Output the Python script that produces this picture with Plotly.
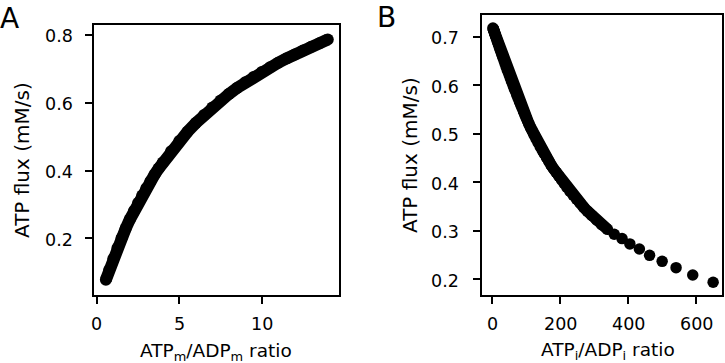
import plotly.graph_objects as go

# ---------------- data ----------------
# Panel A: ATPm/ADPm ratio vs ATP flux
a_ratio = [0.55, 0.75, 1.0, 1.25, 1.5, 1.75, 2.0, 2.25, 2.5, 2.75, 3.0, 3.25, 3.5, 3.75,
           4.0, 4.5, 5.0, 5.5, 6.0, 6.5, 7.0, 7.5, 8.0, 8.5, 9.0, 9.5, 10.0, 10.5, 11.0,
           11.5, 12.0, 12.5, 13.0, 13.5, 14.0]
a_flux = [0.0775, 0.1060, 0.1396, 0.1711, 0.2009, 0.2289, 0.2553, 0.2803, 0.3040, 0.3265,
          0.3479, 0.3682, 0.3876, 0.4060, 0.4236, 0.4566, 0.4868, 0.5145, 0.5402, 0.5639,
          0.5860, 0.6065, 0.6256, 0.6436, 0.6603, 0.6761, 0.6910, 0.7050, 0.7182, 0.7307,
          0.7426, 0.7540, 0.7650, 0.7755, 0.7865]

# Panel B: ATPi/ADPi ratio vs ATP flux
b_ratio = [2, 3, 4, 5, 6, 7, 8, 9, 10, 12, 14, 16, 18, 20, 22, 24, 26, 28, 30, 32, 35, 38,
           41, 44, 47, 50, 53, 56, 59, 62, 65, 68, 72, 76, 80, 84, 88, 92, 96, 100, 104, 108,
           113, 118, 123, 129, 135, 141, 147, 153, 160, 167, 174, 181, 188, 196, 204, 212,
           220, 229, 238, 248, 258, 269, 280, 293, 307, 322, 339,
           359, 382, 405, 433, 463, 500, 541, 590, 650]
b_flux = [0.718, 0.716, 0.714, 0.712, 0.710, 0.7075, 0.7054, 0.7033, 0.7012, 0.6970, 0.6928,
          0.6886, 0.6844, 0.6802, 0.6762, 0.6722, 0.6682, 0.6642, 0.6602, 0.6562, 0.6502,
          0.6442, 0.6383, 0.6326, 0.6269, 0.6212, 0.6155, 0.6098, 0.6041, 0.5986, 0.5932,
          0.5878, 0.5806, 0.5734, 0.5662, 0.5594, 0.5526, 0.5458, 0.5390, 0.5322, 0.5262,
          0.5202, 0.5127, 0.5052, 0.4977, 0.4892, 0.4814, 0.4736, 0.4658, 0.4588, 0.4507,
          0.4427, 0.4346, 0.4274, 0.4204, 0.4124, 0.4046, 0.3970, 0.3894, 0.3812, 0.3736,
          0.3651, 0.3572, 0.3487, 0.3406, 0.3315, 0.3222, 0.3127, 0.3030,
          0.293, 0.284, 0.273, 0.2625, 0.2495, 0.237, 0.224, 0.209, 0.194]
b_dense_count = 69  # points up to ratio 339 merge into a continuous band

a_xticks = [0, 5, 10]
a_xticklabels = ["0", "5", "10"]
a_yticks = [0.2, 0.4, 0.6, 0.8]
a_yticklabels = ["0.2", "0.4", "0.6", "0.8"]
b_xticks = [0, 200, 400, 600]
b_xticklabels = ["0", "200", "400", "600"]
b_yticks = [0.2, 0.3, 0.4, 0.5, 0.6, 0.7]
b_yticklabels = ["0.2", "0.3", "0.4", "0.5", "0.6", "0.7"]

# ---------------- figure ----------------
W, H = 725, 363
FONT = "DejaVu Sans"
TICK_FS = 17.5
XLAB_FS = 18.5
YLAB_FS = 20


def fx(p):
    return p / W


def fy(p):
    return 1 - p / H


fig = go.Figure()

fig.add_trace(go.Scatter(x=a_ratio, y=a_flux, mode="lines+markers",
                         line=dict(color="black", width=12),
                         marker=dict(color="black", size=12),
                         xaxis="x", yaxis="y", showlegend=False, hoverinfo="skip"))

fig.add_trace(go.Scatter(x=b_ratio[:b_dense_count], y=b_flux[:b_dense_count], mode="lines",
                         line=dict(color="black", width=11.5),
                         xaxis="x2", yaxis="y2", showlegend=False, hoverinfo="skip"))
fig.add_trace(go.Scatter(x=b_ratio, y=b_flux, mode="markers",
                         marker=dict(color="black", size=11.5),
                         xaxis="x2", yaxis="y2", showlegend=False, hoverinfo="skip"))

axis_common = dict(showline=True, linecolor="black", linewidth=1.5, mirror=True,
                   ticks="outside", ticklen=7, tickwidth=1.5, tickcolor="black",
                   showgrid=False, zeroline=False, showticklabels=False)

A_LEFT, A_RIGHT, A_TOP, A_BOTTOM = 94, 339, 25, 295
B_LEFT, B_RIGHT, B_TOP, B_BOTTOM = 481.7, 722.3, 15, 295

fig.update_layout(
    width=W, height=H,
    margin=dict(l=0, r=0, t=0, b=0),
    paper_bgcolor="white", plot_bgcolor="white",
    font=dict(family=FONT, size=TICK_FS, color="black"),
    xaxis=dict(domain=[fx(A_LEFT), fx(A_RIGHT)], range=[-0.17, 14.68], tickvals=a_xticks,
               anchor="y", **axis_common),
    yaxis=dict(domain=[fy(A_BOTTOM), fy(A_TOP)], range=[0.0325, 0.8295], tickvals=a_yticks,
               anchor="x", **axis_common),
    xaxis2=dict(domain=[fx(B_LEFT), fx(B_RIGHT)], range=[-31, 677], tickvals=b_xticks,
                anchor="y2", **axis_common),
    yaxis2=dict(domain=[fy(B_BOTTOM), fy(B_TOP)], range=[0.1677, 0.7447], tickvals=b_yticks,
                anchor="x2", **axis_common),
)

tickfont = dict(family=FONT, size=TICK_FS, color="black")
ann = []
# tick labels placed through the axes' own scales
for v, t in zip(a_xticks, a_xticklabels):
    ann.append(dict(text=t, x=v, xref="x", y=fy(323.5), yref="paper", xanchor="center",
                    yanchor="middle", showarrow=False, borderpad=0, font=tickfont))
for v, t in zip(b_xticks, b_xticklabels):
    ann.append(dict(text=t, x=v, xref="x2", y=fy(323.5), yref="paper", xanchor="center",
                    yanchor="middle", showarrow=False, borderpad=0, font=tickfont))
for v, t in zip(a_yticks, a_yticklabels):
    ann.append(dict(text=t, x=fx(A_LEFT - 20.5), xref="paper", y=v, yref="y", xanchor="right",
                    yanchor="middle", yshift=-1.5, showarrow=False, borderpad=0, font=tickfont))
for v, t in zip(b_yticks, b_yticklabels):
    ann.append(dict(text=t, x=fx(B_LEFT - 21.5), xref="paper", y=v, yref="y2", xanchor="right",
                    yanchor="middle", yshift=-1.5, showarrow=False, borderpad=0, font=tickfont))

ann.append(dict(text="A", x=fx(-2), y=fy(18), xref="paper", yref="paper",
                xanchor="left", yanchor="middle", showarrow=False,
                font=dict(family=FONT, size=28, color="black")))
ann.append(dict(text="B", x=fx(375), y=fy(17), xref="paper", yref="paper",
                xanchor="left", yanchor="middle", showarrow=False,
                font=dict(family=FONT, size=28, color="black")))
ann.append(dict(text="ATP<sub>m</sub>/ADP<sub>m</sub> ratio", x=fx(215.5), y=fy(352),
                xref="paper", yref="paper", xanchor="center", yanchor="middle",
                showarrow=False, font=dict(family=FONT, size=XLAB_FS, color="black")))
ann.append(dict(text="ATP<sub>i</sub>/ADP<sub>i</sub> ratio", x=fx(608), y=fy(351),
                xref="paper", yref="paper", xanchor="center", yanchor="middle",
                showarrow=False, font=dict(family=FONT, size=XLAB_FS, color="black")))
ann.append(dict(text="ATP flux (mM/s)", x=fx(21.5), y=fy(160.5), textangle=-90,
                xref="paper", yref="paper", xanchor="center", yanchor="middle",
                showarrow=False, font=dict(family=FONT, size=YLAB_FS, color="black")))
ann.append(dict(text="ATP flux (mM/s)", x=fx(410), y=fy(155), textangle=-90,
                xref="paper", yref="paper", xanchor="center", yanchor="middle",
                showarrow=False, font=dict(family=FONT, size=YLAB_FS, color="black")))
fig.update_layout(annotations=ann)

fig.write_html("out.html", config={"displayModeBar": False},
               post_script="document.body.style.margin='0';document.body.style.overflow='hidden';")
